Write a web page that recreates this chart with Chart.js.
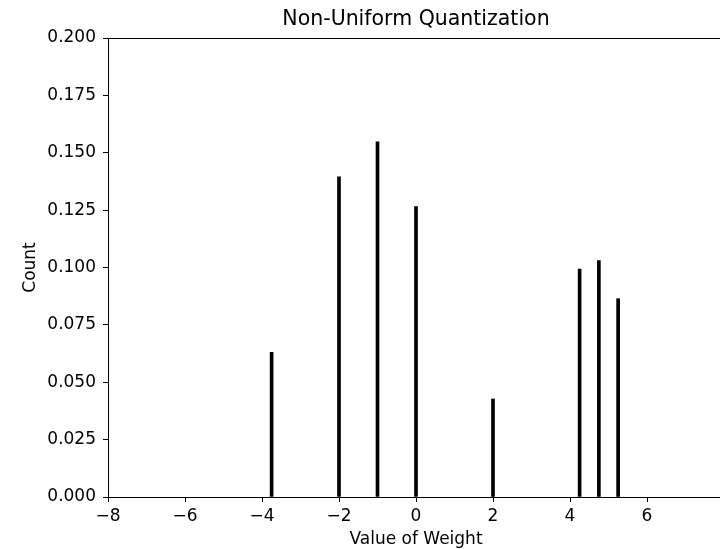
<!DOCTYPE html>
<html>
<head>
<meta charset="utf-8">
<title>Non-Uniform Quantization</title>
<script src="https://cdn.jsdelivr.net/npm/chart.js@4/dist/chart.umd.min.js"></script>
<style>
    html, body { margin: 0; padding: 0; background: #fff; }
    #wrap { width: 720px; height: 549px; overflow: hidden; }
</style>
</head>
<body>
<div id="wrap"><canvas id="myChart" width="832" height="549"></canvas></div>
<script>
// quantization levels and their share of weights
const levels = [-3.75, -2, -1, 0, 2, 4.25, 4.75, 5.25];
const counts = [0.063, 0.1395, 0.1548, 0.1265, 0.0427, 0.0993, 0.103, 0.0864];
const xTickValues = [-8, -6, -4, -2, 0, 2, 4, 6];
const yTickValues = [0, 0.025, 0.05, 0.075, 0.1, 0.125, 0.15, 0.175, 0.2];

const fontFamily = '"DejaVu Sans", sans-serif';

// matplotlib-like top spine
const topSpine = {
    id: 'topSpine',
    afterDraw(chart) {
        const ctx = chart.ctx;
        const area = chart.chartArea;
        ctx.save();
        ctx.strokeStyle = '#000';
        ctx.lineWidth = 1;
        ctx.beginPath();
        ctx.moveTo(area.left, area.top + 0.5);
        ctx.lineTo(area.right, area.top + 0.5);
        ctx.stroke();
        ctx.restore();
    }
};

document.addEventListener('DOMContentLoaded', function() {
    const chartCanvas = document.getElementById('myChart');

    const points = levels.map((x, i) => ({ x: x, y: counts[i] }));

    new Chart(chartCanvas, {
        type: 'bar',
        data: {
            datasets: [{
                data: points,
                backgroundColor: '#000',
                borderWidth: 0,
                barThickness: 3
            }]
        },
        options: {
            responsive: false,
            animation: false,
            layout: { padding: { left: 0, right: 108, top: 0, bottom: 0 }, autoPadding: false },
            plugins: {
                legend: { display: false },
                tooltip: { enabled: false },
                title: {
                    display: true,
                    fullSize: false,
                    text: 'Non-Uniform Quantization',
                    color: '#000',
                    font: { family: fontFamily, size: 20.5, weight: 'normal', lineHeight: 1.2 },
                    padding: { top: 7, bottom: 6.4 }
                }
            },
            scales: {
                x: {
                    type: 'linear',
                    min: -8,
                    max: 8,
                    offset: false,
                    afterBuildTicks: (scale) => { scale.ticks = xTickValues.map(v => ({ value: v })); },
                    afterFit: (scale) => { scale.height = 52; },
                    grid: { offset: false, drawOnChartArea: false, drawTicks: true, tickLength: 5, tickColor: '#000', color: '#000' },
                    border: { display: true, color: '#000', width: 1 },
                    ticks: {
                        color: '#000',
                        padding: 4,
                        maxRotation: 0,
                        font: { family: fontFamily, size: 17 },
                        callback: (v) => String(v).replace('-', '\u2212')
                    },
                    title: {
                        display: true,
                        text: 'Value of Weight',
                        color: '#000',
                        font: { family: fontFamily, size: 17, lineHeight: 1 },
                        padding: { top: 0, bottom: 0.5 }
                    }
                },
                y: {
                    min: 0,
                    max: 0.2,
                    afterBuildTicks: (scale) => { scale.ticks = yTickValues.map(v => ({ value: v })); },
                    afterFit: (scale) => { scale.width = 108; },
                    grid: { drawOnChartArea: false, drawTicks: true, tickLength: 5, tickColor: '#000', color: '#000' },
                    border: { display: true, color: '#000', width: 1 },
                    ticks: {
                        color: '#000',
                        padding: 7,
                        font: { family: fontFamily, size: 17 },
                        callback: (v) => v.toFixed(3)
                    },
                    title: {
                        display: true,
                        text: 'Count',
                        color: '#000',
                        font: { family: fontFamily, size: 17, lineHeight: 1.2 },
                        padding: { top: 20, bottom: 0 }
                    }
                }
            }
        },
        plugins: [topSpine]
    });
});
</script>
</body>
</html>
